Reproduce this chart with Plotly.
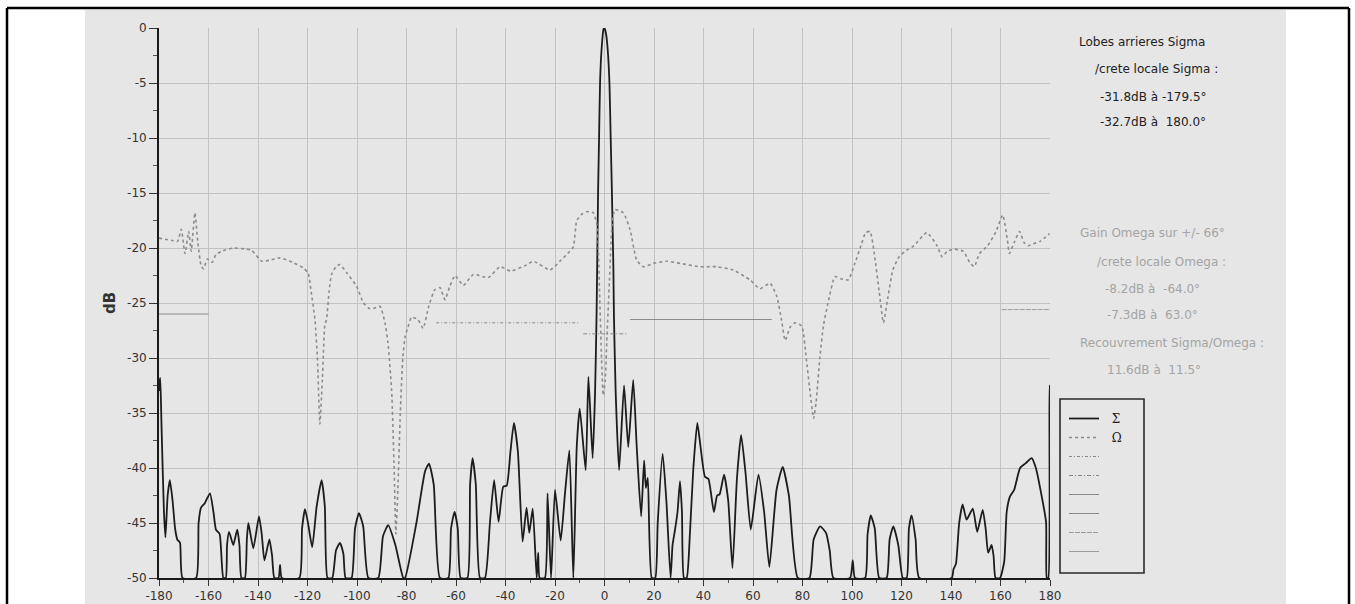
import plotly.graph_objects as go

# ---------------- data ----------------
sigma_deg = [-180, -179.8, -179.5, -179, -178, -177.4, -176.5, -175.6, -174.5, -173.5, -172.6, -171.5, -170.5,
             -165, -164, -163, -161.5, -159.4, -158, -157, -155.5, -154,
             -153, -152.5, -151.7, -150, -148.4, -147.5, -146.7,
             -145.3, -144.5, -143.9, -141.9, -139.6, -138.5, -137.4, -135.4, -134.3, -133.4,
             -131.7, -131.1, -130.4,
             -123.3, -122.2, -121, -119.8, -118.1, -116.3, -114.3, -113, -111.9,
             -110, -108.5, -106.9, -105.5, -104.6,
             -102.2, -100.8, -99.2, -97.5, -95.4,
             -91.4, -89.5, -87.4, -84.5, -81.3, -80.6, -76, -72.5, -70.9, -69, -66.5,
             -63.1, -62, -60.6, -59.3, -58.1,
             -55.4, -54.3, -53.3, -52, -50.3,
             -48.3, -46.3, -44.6, -42.8, -40.9, -39.5, -38, -36.6, -35, -33.1, -31.5, -30.4, -29, -27.4, -26.8, -26.2,
             -24.1, -23, -21.6, -20, -17.7, -16, -14.2, -12.6,
             -11.2, -10, -7.6, -6.5, -4.8, -3.8, -3.2, -2.6, -2.2, -1.8, -1.2, -0.4, 0, 0.6, 1.3, 2.0, 2.5, 3.0, 3.6,
             3.8, 4.5, 5.9, 7.9, 9.6, 11.6, 13, 14.8, 16, 16.7, 17.5, 19.1,
             20.5, 21.5, 23.5, 25, 26.7, 27.5, 28.5, 29.5, 30.5, 31.3, 32.1, 33.2, 34.5, 35.9, 37.5, 38.5, 40.6, 42,
             44.2, 45.5, 46.5, 48.3, 50, 51.7, 53.5, 55.2, 57, 59.1, 62.2, 64.5, 66.6, 69.5, 72, 74.5, 78.1,
             82.8, 84.5, 87.1, 89.5, 91, 92.5,
             99.2, 100.3, 101.2,
             105.3, 106.3, 107.6, 109.2, 111,
             114, 115.2, 116.7, 118.7, 120.5,
             122.1, 123, 124.1, 125.7, 127.2,
             140.3, 141, 142, 143.3, 144.7, 146.3, 148.8, 150.6, 152.8, 154, 155, 156.4, 157.2, 158,
             159.8, 161.5, 162.5, 163.8, 165.5, 167.9, 170, 172.6, 174.3, 176, 178.4, 178.7, 179.3, 179.8, 180]
sigma_db = [-33, -32.2, -31.8, -36, -44, -46.3, -42.5, -41.1, -43, -45.5, -46.5, -46.8, -50,
            -50, -45, -43.6, -43.2, -42.3, -44, -45.6, -46, -50,
            -50, -47, -45.8, -47, -45.6, -47, -50,
            -50, -46.5, -45.0, -47.3, -44.4, -46, -48.4, -46.5, -48, -50,
            -50, -48.8, -50,
            -50, -45.5, -43.75, -45, -47.2, -43.5, -41.1, -43.5, -50,
            -50, -47.5, -46.8, -47.8, -50,
            -50, -45.5, -44.1, -45.3, -50,
            -50, -46.2, -45.2, -47, -50, -50, -45, -40.3, -39.6, -41.5, -50,
            -50, -45.5, -44.0, -45.5, -50,
            -50, -41.5, -39.1, -41.5, -50,
            -50, -45, -41.1, -44.9, -41.7, -41.6, -38.5, -35.9, -38.5, -46.7, -43.6, -45.9, -43.7, -50, -47.7, -50,
            -50, -42.3, -50, -42.0, -46.6, -42.4, -38.4, -50,
            -38, -34.6, -40.2, -31.7, -39.1, -33, -26, -15, -10, -5, -2, -0.1, 0, -0.5, -2, -5, -10, -15, -22,
            -26, -33, -40.2, -32.5, -38.1, -32.0, -38, -44.4, -39.3, -41.8, -40.9, -50,
            -50, -45, -38.7, -43, -50, -47, -45.6, -44, -41.2, -44, -50, -50, -46, -40, -35.9, -37.5, -40.8, -41,
            -44.0, -42.5, -42.4, -40.6, -43, -49.1, -41, -37.0, -40.5, -45.6, -40.6, -44, -49.0, -42, -39.9, -42.5, -50,
            -50, -46.5, -45.3, -45.9, -47.5, -50,
            -50, -48.4, -50,
            -50, -46, -44.3, -45.5, -50,
            -50, -46.5, -45.3, -47, -50,
            -50, -45.5, -44.3, -46.5, -50,
            -50, -49.2, -48.7, -45, -43.3, -44.7, -43.7, -45.8, -43.8, -45.5, -47.7, -47, -48, -50,
            -50, -48.5, -44, -42.6, -42.0, -40.0, -39.6, -39.1, -40, -41.8, -44.9, -50, -50, -32.5, -32.7]

omega_deg = [-180, -175, -172.5, -171, -169.5, -168, -167, -165.5, -164.3, -163, -162, -160.5, -158.5, -157,
             -154.7, -150, -145, -142.6, -138.5, -135, -131.1, -126, -121.7, -119.7, -118.5, -117, -116, -115,
             -114, -113, -112.3, -111.3, -110.3, -108.5, -106.9, -104, -100.1, -97.4, -95, -93.4, -90.7, -88.7,
             -87.5, -86, -85, -84.3, -83.5, -82.5, -81.5, -80.5, -79.4, -78, -75.4, -73.3, -71, -68.6, -66.5,
             -64.5, -62.5, -60.4, -57, -53, -47, -42.2, -38, -32, -28.8, -22, -18, -15.3, -12.6, -11.2, -9, -7.2,
             -4.5, -3, -2, -1.2, -0.5, 0.3, 1, 2, 3, 4.2, 7.6, 10.3, 13, 15.7, 19.7, 25, 30.5, 38.6, 45.3, 52, 58.8,
             62.8, 66.9, 69.6, 71.5, 73, 75, 77, 79.7, 81.5, 83, 84.5, 85.5, 87, 88.5, 90.6, 93.1, 95.5, 98.5, 101,
             103.9, 105.5, 107.3, 109, 111, 112.7, 114.5, 116.5, 119, 122.1, 125, 130.2, 134.4, 136.4, 138.5, 141.1,
             145, 147.5, 149.4, 151.5, 154.8, 158.2, 160.9, 162.8, 163.6, 165.5, 167.7, 169.5, 171.1, 173.5, 176,
             179.8]
omega_db = [-19.1, -19.3, -19.4, -18.3, -20.5, -18.5, -20.3, -16.8, -19.5, -21.6, -21.9, -21.0, -21.3, -20.6,
            -20.3, -20.0, -20.1, -20.2, -21.2, -21.1, -20.9, -21.3, -21.8, -22.3, -24, -26.5, -30, -36,
            -32, -27, -26.5, -24, -22.4, -21.7, -21.5, -22.3, -23.5, -25.0, -25.5, -25.5, -25.3, -26.8,
            -28.6, -33, -40, -46, -42, -35, -30, -28, -27.2, -26.3, -26.5, -27.3, -25.3, -23.8, -23.6,
            -24.7, -23.5, -22.5, -23.4, -22.4, -22.7, -21.7, -22.1, -21.6, -21.2, -22.0, -21.2, -20.6, -19.9, -17.5, -16.9, -16.7,
            -16.8, -18, -24, -30, -33.4, -32, -28, -23, -18, -16.5, -16.8, -18.3, -21.1, -21.7, -21.4, -21.2, -21.4, -21.7, -21.7, -22.0, -22.9,
            -23.7, -23.2, -24.4, -26.5, -28.4, -27.2, -26.8, -27.1, -30, -33, -35.5, -34, -30, -27, -24.7, -22.6, -22.8, -22.9, -21.5,
            -19.6, -18.6, -18.5, -20.5, -24, -26.8, -24.5, -22.0, -20.8, -20.2, -19.8, -18.6, -19.8, -20.8, -20.3, -20.1,
            -20.3, -21.3, -21.7, -20.5, -19.8, -18.5, -17.0, -19.3, -20.5, -19.5, -18.5, -19.5, -19.8, -19.6, -19.4,
            -18.7]

# template (gabarit) lines
tmpl1_x, tmpl1_y = [-180, -160], [-26, -26]
tmpl2_x, tmpl2_y = [-68, -10], [-26.8, -26.8]
tmpl3_x, tmpl3_y = [-8.6, 9], [-27.8, -27.8]
tmpl4_x, tmpl4_y = [10.3, 67.6], [-26.5, -26.5]
tmpl5_x, tmpl5_y = [160.5, 180], [-25.6, -25.6]

x_ticks = list(range(-180, 181, 20))
y_ticks = list(range(-50, 1, 5))

# ---------------- figure ----------------
L, R, T, B = 159, 305, 28, 26
W, H = 1355, 604
PW, PH = W - L - R, H - T - B


def px(x):
    return (x - L) / PW


def py(y):
    return 1 - (y - T) / PH


TXT = "DejaVu Sans, Verdana, sans-serif"
NB = "\u00a0\u00a0"

fig = go.Figure()
fig.add_trace(go.Scatter(x=sigma_deg, y=sigma_db, mode="lines", name=NB + "\u03a3",
                         line=dict(color="#1c1c1c", width=1.8, shape="spline", smoothing=0.5)))
fig.add_trace(go.Scatter(x=omega_deg, y=omega_db, mode="lines", name=NB + "\u03a9",
                         line=dict(color="#8c8c8c", width=1.6, dash="3px,3px", shape="spline", smoothing=0.5)))

tmpl_styles = [
    (tmpl2_x, tmpl2_y, dict(color="#8a8a8a", width=1, dash="3px,2px,1px,2px")),
    (tmpl3_x, tmpl3_y, dict(color="#8a8a8a", width=1, dash="4px,2px,1px,2px")),
    (tmpl1_x, tmpl1_y, dict(color="#8a8a8a", width=1)),
    (tmpl4_x, tmpl4_y, dict(color="#8a8a8a", width=1)),
    (tmpl5_x, tmpl5_y, dict(color="#9a9a9a", width=1, dash="5px,1px")),
    ([None], [None], dict(color="#9a9a9a", width=1)),
]
for tx, ty, st in tmpl_styles:
    fig.add_trace(go.Scatter(x=tx, y=ty, mode="lines", name=" ", line=st))

# background paper + frame + legend box
shapes = [
    dict(type="rect", xref="paper", yref="paper", x0=px(85), x1=px(1286), y0=py(640), y1=py(10),
         fillcolor="#e6e6e6", line=dict(width=0), layer="below"),
    dict(type="line", xref="paper", yref="paper", x0=px(7), x1=px(1349), y0=py(8), y1=py(8),
         line=dict(color="black", width=2.5)),
    dict(type="line", xref="paper", yref="paper", x0=px(7), x1=px(7), y0=py(8), y1=py(640),
         line=dict(color="black", width=2.5)),
    dict(type="line", xref="paper", yref="paper", x0=px(1349), x1=px(1349), y0=py(8), y1=py(640),
         line=dict(color="black", width=2.5)),
    dict(type="rect", xref="paper", yref="paper", x0=px(1060), x1=px(1144), y0=py(573), y1=py(399),
         line=dict(color="#2a2a2a", width=1.6), fillcolor="rgba(0,0,0,0)"),
]

texts_dark = [
    ("Lobes arrieres Sigma", 1077, 42),
    ("/crete locale Sigma :", 1093, 69),
    ("-31.8dB \u00e0 -179.5\u00b0", 1098, 97),
    ("-32.7dB \u00e0  180.0\u00b0", 1098, 122),
]
texts_light = [
    ("Gain Omega sur +/- 66\u00b0", 1078, 233),
    ("/crete locale Omega :", 1095, 262),
    ("-8.2dB \u00e0  -64.0\u00b0", 1103, 289),
    ("-7.3dB \u00e0  63.0\u00b0", 1105, 315),
    ("Recouvrement Sigma/Omega :", 1078, 343),
    ("11.6dB \u00e0  11.5\u00b0", 1105, 370),
]
annotations = []
for t, x, y in texts_dark:
    annotations.append(dict(text=t, x=px(x), y=py(y), xref="paper", yref="paper", xanchor="left",
                            yanchor="middle", showarrow=False,
                            font=dict(family=TXT, size=12, color="#222")))
for t, x, y in texts_light:
    annotations.append(dict(text=t, x=px(x), y=py(y), xref="paper", yref="paper", xanchor="left",
                            yanchor="middle", showarrow=False,
                            font=dict(family=TXT, size=12, color="#a4a4a4")))

fig.update_layout(
    width=W, height=H,
    margin=dict(l=L, r=R, t=T, b=B, autoexpand=False),
    paper_bgcolor="white",
    plot_bgcolor="#e6e6e6",
    shapes=shapes,
    annotations=annotations,
    showlegend=True,
    legend=dict(x=px(1064), y=py(404), xanchor="left", yanchor="top",
                bgcolor="rgba(0,0,0,0)", borderwidth=0,
                font=dict(family="DejaVu Serif", size=12, color="#222"),
                itemwidth=30, tracegroupgap=0),
    font=dict(family=TXT, color="#333"),
)
fig.update_xaxes(range=[-180, 180], tickvals=x_ticks, ticktext=[str(v) for v in x_ticks],
                 automargin=False,
                 showgrid=True, gridcolor="#c2c2c2", gridwidth=1, zeroline=False,
                 showline=True, linecolor="#1a1a1a", linewidth=1.8,
                 ticks="outside", ticklen=6, tickcolor="#333", tickwidth=1,
                 tickfont=dict(family=TXT, size=12, color="#333"),
                 minor=dict(dtick=10, ticks="outside", ticklen=3, tickcolor="#555", showgrid=False))
fig.update_yaxes(range=[-50, 0], tickvals=y_ticks, ticktext=[str(v) for v in y_ticks],
                 automargin=False,
                 showgrid=True, gridcolor="#c2c2c2", gridwidth=1, zeroline=False,
                 showline=True, linecolor="#1a1a1a", linewidth=1.8,
                 ticks="outside", ticklen=8, tickcolor="#333", tickwidth=1,
                 tickfont=dict(family=TXT, size=12, color="#333"),
                 minor=dict(dtick=2.5, ticks="outside", ticklen=4, tickcolor="#555", showgrid=False),
                 title=dict(text="<b>dB</b>", font=dict(family=TXT, size=15, color="#333"), standoff=8))

fig.write_html("out.html", config={"displayModeBar": False},
               post_script="document.body.style.margin='0';document.body.style.overflow='hidden';")
